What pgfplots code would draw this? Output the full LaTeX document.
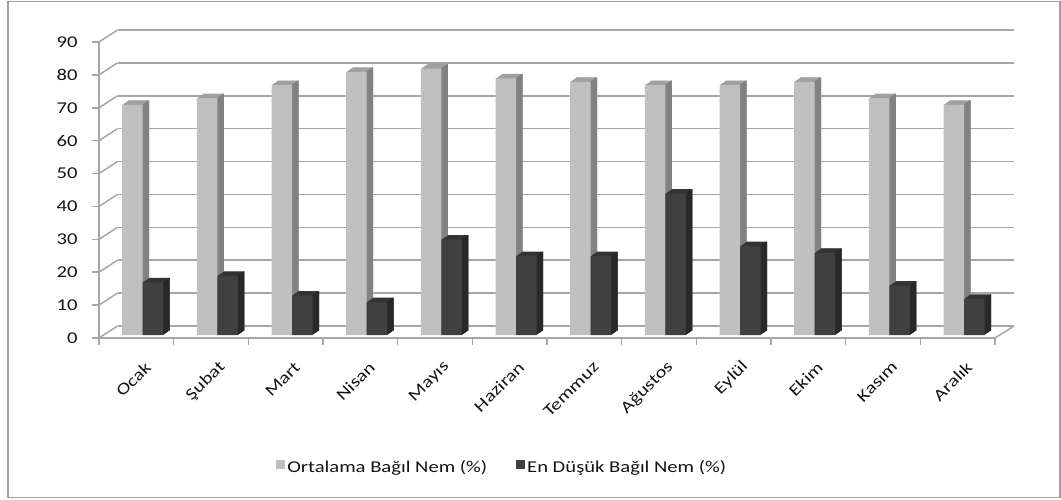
\documentclass[border=0pt]{standalone}
\usepackage{fontspec}
\setmainfont{Carlito}[FakeStretch=1.25]
\usepackage{pgfplots}
\pgfplotsset{compat=1.18}
\usepackage{pgfplotstable}

\definecolor{ortF}{HTML}{C0C0C0}
\definecolor{ortS}{HTML}{808080}
\definecolor{ortT}{HTML}{A0A0A0}
\definecolor{minF}{HTML}{404040}
\definecolor{minS}{HTML}{282828}
\definecolor{minT}{HTML}{333333}
\definecolor{gridc}{HTML}{A6A6A6}
\definecolor{framec}{HTML}{A0A0A0}
\definecolor{txt}{HTML}{141414}

% monthly relative humidity (%): mean and lowest
\pgfplotstableread{
i ort min
0 70 16
1 72 18
2 76 12
3 80 10
4 81 29
5 78 24
6 77 24
7 76 43
8 76 27
9 77 25
10 72 15
11 70 11
}\nemtable

\newcommand{\lblfont}{\fontsize{16.5}{19}\selectfont}

\begin{document}
\begin{tikzpicture}[x=1pt,y=1pt]
\useasboundingbox (0,0) rectangle (1061,499);
\draw[framec, line width=1.2pt] (8,1.5) rectangle (1060,497.5);

% back wall with its gridlines
\begin{axis}[
  at={(117.5pt,173pt)}, anchor=south west,
  scale only axis, width=896pt, height=296pt,
  xmin=0, xmax=12, ymin=0, ymax=90,
  xtick=\empty, ytick={0,10,...,90}, yticklabels={},
  ytick style={draw=none},
  axis line style={draw=none},
  ymajorgrids, grid style={gridc, line width=1.5pt},
]
\end{axis}

% front axes with the bars
\begin{axis}[
  at={(99pt,161pt)}, anchor=south west,
  scale only axis, width=896pt, height=296pt,
  xmin=0, xmax=12, ymin=0, ymax=90,
  clip=false,
  axis x line*=bottom, axis y line*=left,
  axis line style={gridc, line width=1.5pt},
  tick align=outside,
  ytick={0,10,...,90},
  major tick length=7pt, minor tick length=7pt,
  ytick style={gridc, line width=1.5pt},
  xtick={0.5,1.5,...,11.5},
  minor xtick={0,1,...,12},
  major x tick style={draw=none},
  minor x tick style={gridc, line width=1.5pt},
  xticklabels={Ocak,Şubat,Mart,Nisan,Mayıs,Haziran,Temmuz,Ağustos,Eylül,Ekim,Kasım,Aralık},
  /pgf/number format/assume math mode=true,
  yticklabel style={font=\lblfont, text=txt, xshift=-11pt},
  xticklabel style={font=\lblfont, text=txt, rotate=45, anchor=east, xshift=-2pt, yshift=-22pt},
  legend columns=2,
  legend style={at={(0.45,-0.436)}, anchor=center, draw=none, fill=none,
    font=\lblfont, text=txt,
    /tikz/every even column/.append style={column sep=27pt}},
]
% floor edges towards the back wall
\pgfplotsinvokeforeach{0,10,...,90}{
  \draw[gridc, line width=1.5pt] (axis cs:0,#1) -- ++(18.5pt,12pt);
}
\draw[gridc, line width=1.5pt] (axis cs:12,0) -- ++(19pt,12pt);

% mean humidity: top, side, front
\pgfplotsinvokeforeach{1,...,10}{
  \addplot[forget plot, ybar, bar width=20.5pt, bar shift=-10.25pt, fill=ortT, draw=none,
    xshift={6.4pt+0.65pt*#1}, yshift={3pt+0.45pt*#1}]
    table[x expr=\thisrow{i}+0.5, y=ort]{\nemtable};
}
\pgfplotsinvokeforeach{1,...,10}{
  \addplot[forget plot, ybar, bar width=0.95pt, bar shift=-0.475pt, fill=ortS, draw=none,
    xshift={6.4pt+0.65pt*#1}, yshift={3pt+0.45pt*#1}]
    table[x expr=\thisrow{i}+0.5, y=ort]{\nemtable};
}
\addplot[ybar, bar width=20.5pt, bar shift=-10.25pt, fill=ortF, draw=none,
  xshift=6.4pt, yshift=3pt,
  legend image code/.code={\fill[ortF] (0pt,-4.5pt) rectangle (9pt,4.5pt);}]
  table[x expr=\thisrow{i}+0.5, y=ort]{\nemtable};
\addlegendentry{Ortalama Bağıl Nem (\%)}

% lowest humidity: top, side, front
\pgfplotsinvokeforeach{1,...,10}{
  \addplot[forget plot, ybar, bar width=20.5pt, bar shift=10.25pt, fill=minT, draw=none,
    xshift={6.4pt+0.65pt*#1}, yshift={3pt+0.45pt*#1}]
    table[x expr=\thisrow{i}+0.5, y=min]{\nemtable};
}
\pgfplotsinvokeforeach{1,...,10}{
  \addplot[forget plot, ybar, bar width=0.95pt, bar shift=20.025pt, fill=minS, draw=none,
    xshift={6.4pt+0.65pt*#1}, yshift={3pt+0.45pt*#1}]
    table[x expr=\thisrow{i}+0.5, y=min]{\nemtable};
}
\addplot[ybar, bar width=20.5pt, bar shift=10.25pt, fill=minF, draw=none,
  xshift=6.4pt, yshift=3pt,
  legend image code/.code={\fill[minF] (0pt,-4.5pt) rectangle (9pt,4.5pt);}]
  table[x expr=\thisrow{i}+0.5, y=min]{\nemtable};
\addlegendentry{En Düşük Bağıl Nem (\%)}
\end{axis}
\end{tikzpicture}
\end{document}
